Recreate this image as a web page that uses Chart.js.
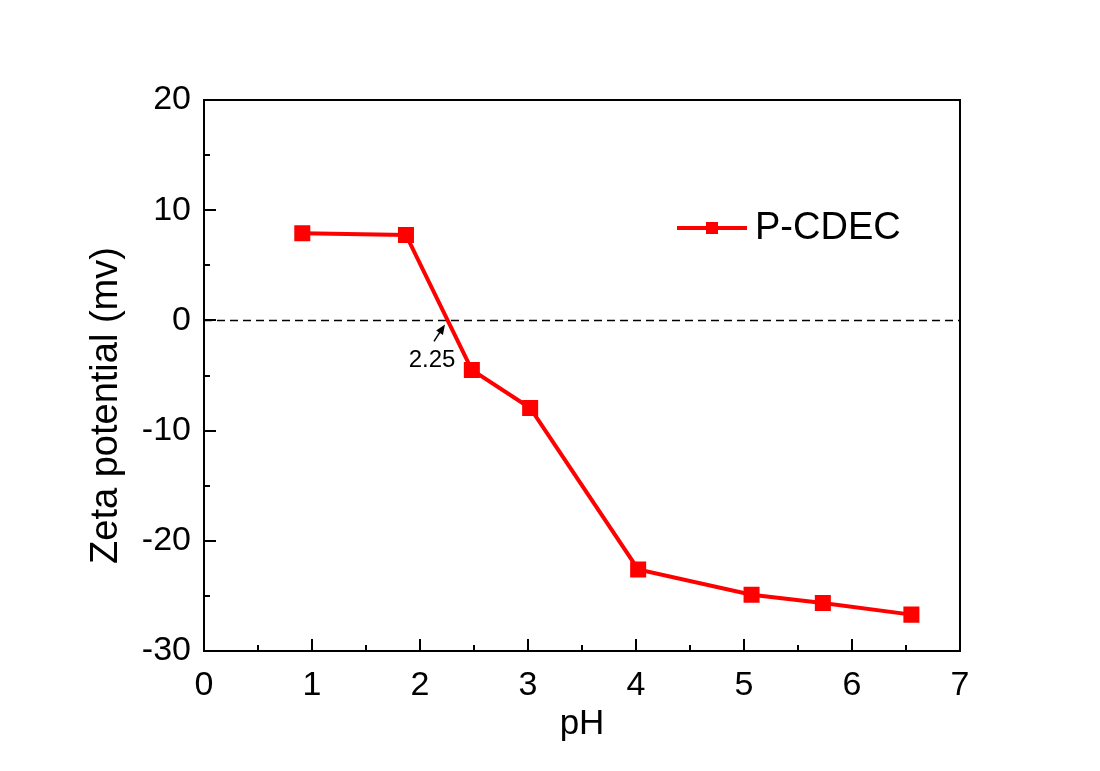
<!DOCTYPE html>
<html>
<head>
<meta charset="utf-8">
<title>Zeta potential vs pH</title>
<script src="https://cdn.jsdelivr.net/npm/chart.js@4.4.1/dist/chart.umd.min.js"></script>
<style>
  html, body { margin: 0; padding: 0; background: #fff; }
  #wrap { width: 1100px; height: 771px; position: relative; }
</style>
</head>
<body>
<div id="wrap"><canvas id="zeta"></canvas></div>
<script>
// measured zeta potential of P-CDEC at each pH
const phValues = [0.91, 1.87, 2.48, 3.02, 4.02, 5.07, 5.73, 6.55];
const zetaValues = [7.9, 7.75, -4.5, -7.95, -22.6, -24.9, -25.65, -26.7];
const seriesName = 'P-CDEC';
const xRange = [0, 7];
const yRange = [-30, 20];
const xStep = 1;
const yStep = 10;
const isoelectricPoint = 2.25;
const isoelectricLabel = '2.25';
const yTitle = 'Zeta potential (mv)';

const FONT = "'Liberation Sans', Arial, sans-serif";
const RED = '#ff0000';

const points = phValues.map((ph, i) => ({ x: ph, y: zetaValues[i] }));
const zeroLine = [{ x: xRange[0], y: 0 }, { x: xRange[1], y: 0 }];

// box around the plot plus inward major/minor ticks
const frameTicks = {
  id: 'frameTicks',
  afterDatasetsDraw(chart) {
    const { ctx, chartArea: a, scales: { x, y } } = chart;
    ctx.save();
    ctx.strokeStyle = '#000';
    ctx.lineWidth = 2;
    ctx.strokeRect(a.left, a.top, a.right - a.left, a.bottom - a.top);
    ctx.beginPath();
    for (let v = xRange[0]; v <= xRange[1]; v += xStep / 2) {
      const px = Math.round(x.getPixelForValue(v));
      const len = Math.abs(v % xStep) < 1e-9 ? 12 : 6;
      ctx.moveTo(px, a.bottom);
      ctx.lineTo(px, a.bottom - len);
    }
    for (let v = yRange[0]; v <= yRange[1]; v += yStep / 2) {
      const py = Math.round(y.getPixelForValue(v));
      const len = Math.abs(v % yStep) < 1e-9 ? 12 : 6;
      ctx.moveTo(a.left, py);
      ctx.lineTo(a.left + len, py);
    }
    ctx.stroke();

    // vertical axis title, sitting a little below the plot's middle
    ctx.fillStyle = '#000';
    ctx.font = '38px ' + FONT;
    ctx.textAlign = 'center';
    ctx.textBaseline = 'middle';
    ctx.translate(a.left - 97, (a.top + a.bottom) / 2 + 30);
    ctx.rotate(-Math.PI / 2);
    ctx.fillText(yTitle, 0, 0);
    ctx.restore();
  }
};

// arrow + label marking where the curve crosses zero
const crossingNote = {
  id: 'crossingNote',
  afterDatasetsDraw(chart) {
    const { ctx, scales: { x, y } } = chart;
    const cx = x.getPixelForValue(isoelectricPoint) - 2;
    const cy = y.getPixelForValue(0) + 4;
    const tx = cx - 11, ty = cy + 17;
    const ang = Math.atan2(cy - ty, cx - tx);
    ctx.save();
    ctx.strokeStyle = '#000';
    ctx.fillStyle = '#000';
    ctx.lineWidth = 1.5;
    ctx.beginPath();
    ctx.moveTo(tx, ty);
    ctx.lineTo(cx - 6 * Math.cos(ang), cy - 6 * Math.sin(ang));
    ctx.stroke();
    ctx.beginPath();
    ctx.moveTo(cx, cy);
    ctx.lineTo(cx - 10 * Math.cos(ang) + 4 * Math.sin(ang), cy - 10 * Math.sin(ang) - 4 * Math.cos(ang));
    ctx.lineTo(cx - 10 * Math.cos(ang) - 4 * Math.sin(ang), cy - 10 * Math.sin(ang) + 4 * Math.cos(ang));
    ctx.closePath();
    ctx.fill();
    ctx.font = '24px ' + FONT;
    ctx.textAlign = 'center';
    ctx.textBaseline = 'middle';
    ctx.fillText(isoelectricLabel, cx - 13, cy + 36);
    ctx.restore();
  }
};

// line-and-square legend entry
const seriesKey = {
  id: 'seriesKey',
  afterDraw(chart) {
    const { ctx, chartArea: a } = chart;
    const x0 = a.left + 473, x1 = a.left + 543, ky = a.top + 128;
    ctx.save();
    ctx.strokeStyle = RED;
    ctx.fillStyle = RED;
    ctx.lineWidth = 4;
    ctx.beginPath();
    ctx.moveTo(x0, ky);
    ctx.lineTo(x1, ky);
    ctx.stroke();
    ctx.fillRect((x0 + x1) / 2 - 6, ky - 6, 12, 12);
    ctx.fillStyle = '#000';
    ctx.font = '38px ' + FONT;
    ctx.textAlign = 'left';
    ctx.textBaseline = 'middle';
    ctx.fillText(seriesName, x1 + 8, ky + 1);
    ctx.restore();
  }
};

new Chart(document.getElementById('zeta'), {
  type: 'scatter',
  data: {
    datasets: [
      {
        label: 'zero',
        data: zeroLine,
        showLine: true,
        borderColor: '#000',
        borderWidth: 1.5,
        borderDash: [8, 5],
        pointRadius: 0,
        order: 2
      },
      {
        label: seriesName,
        data: points,
        showLine: true,
        borderColor: RED,
        backgroundColor: RED,
        borderWidth: 4,
        pointStyle: 'rect',
        pointRadius: 8.5,
        pointHoverRadius: 8.5,
        order: 1
      }
    ]
  },
  options: {
    responsive: true,
    maintainAspectRatio: false,
    animation: false,
    layout: { padding: { left: 0, right: 140, top: 100, bottom: 0 } },
    plugins: {
      legend: { display: false },
      tooltip: { enabled: false }
    },
    scales: {
      x: {
        type: 'linear',
        min: xRange[0],
        max: xRange[1],
        grid: { display: false, drawTicks: false },
        border: { display: false },
        ticks: {
          stepSize: xStep,
          padding: 14,
          color: '#000',
          font: { family: FONT, size: 34 }
        },
        title: {
          display: true,
          text: 'pH',
          color: '#000',
          font: { family: FONT, size: 35 },
          padding: { top: 0, bottom: 26 }
        },
        afterFit(scale) { scale.height = 120; }
      },
      y: {
        type: 'linear',
        min: yRange[0],
        max: yRange[1],
        grid: { display: false, drawTicks: false },
        border: { display: false },
        ticks: {
          stepSize: yStep,
          padding: 13,
          color: '#000',
          font: { family: FONT, size: 34 }
        },
        afterFit(scale) { scale.width = 204; }
      }
    }
  },
  plugins: [frameTicks, crossingNote, seriesKey]
});
</script>
</body>
</html>
